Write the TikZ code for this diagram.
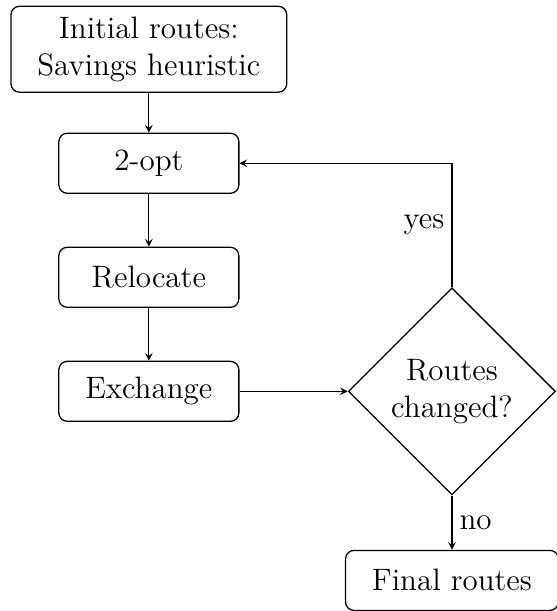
\documentclass[tikz,border=0pt]{standalone}
\usepackage{tikz}
\usetikzlibrary{positioning}
\usetikzlibrary{shapes.geometric}

\tikzset{
  bigfont/.style={font=\fontsize{14.7}{17.5}\selectfont},
  procbox/.style={draw,rounded corners,align=center,bigfont,minimum width=3cm,minimum height=1cm,inner xsep=12.5pt,inner ysep=5pt},
  decision/.style={draw,diamond,aspect=1,align=center,bigfont,minimum size=3.45cm,inner sep=0pt},
  flow/.style={draw,-stealth}
}

\begin{document}
\begin{tikzpicture}[node distance=1.9cm,on grid,semithick]
        \useasboundingbox (-2.48,0.82) rectangle (6.79,-9.36);
        \node[procbox] (init) at (0,0) {Initial routes:\\Savings heuristic};
        \node[procbox,below=of init] (twoopt) {2-opt};
        \node[procbox,below=of twoopt] (reloc) {Relocate};
        \node[procbox,below=of reloc] (exch) {Exchange};
        \node[decision,right=5.05cm of exch] (changed) {Routes\\changed?};
        \node[procbox,below=3.15cm of changed] (final) {Final routes};
        \draw[flow] (init) -- (twoopt);
        \draw[flow] (twoopt) -- (reloc);
        \draw[flow] (reloc) -- (exch);
        \draw[flow] (exch) -- (changed);
        \draw[flow] (changed.north) |- node[pos=0.25,left,bigfont] {yes} (twoopt.east);
        \draw[flow] (changed.south) -- node[right,bigfont] {no} (final);
    \end{tikzpicture}
\end{document}
